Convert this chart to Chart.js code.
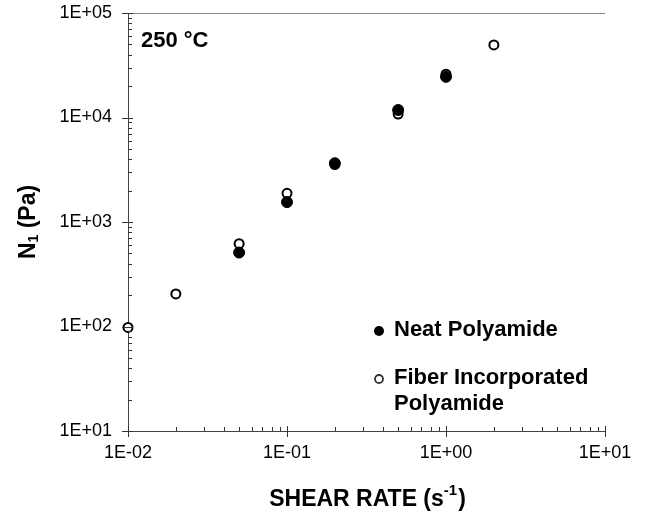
<!DOCTYPE html>
<html><head><meta charset="utf-8">
<script src="https://cdn.jsdelivr.net/npm/chart.js@4/dist/chart.umd.min.js"></script>
<style>html,body{margin:0;padding:0;background:#fff}#wrap{width:649px;height:513px}</style>
</head><body><div id="wrap"><canvas id="c" width="649" height="513"></canvas></div>
<script>
const shearRate = [0.01, 0.02, 0.05, 0.1, 0.2, 0.5, 1, 2];
const neatN1 = [null, null, 510, 1550, 3650, 11800, 24500, null];
const fiberN1 = [98, 205, 620, 1880, 3550, 10800, 26000, 49500];
const xTickValues = [0.01, 0.1, 1, 10];
const xTickLabels = ['1E-02', '1E-01', '1E+00', '1E+01'];
const yTickValues = [10, 100, 1000, 10000, 100000];
const yTickLabels = ['1E+01', '1E+02', '1E+03', '1E+04', '1E+05'];

const toPts = (arr) => shearRate.map((x, i) => ({x: x, y: arr[i]})).filter(p => p.y !== null);

const FONT = "'Liberation Sans', Arial, sans-serif";

const decor = {
  id: 'decor',
  afterDraw(chart) {
    const ctx = chart.ctx;
    const xs = chart.scales.x, ys = chart.scales.y;
    const a = chart.chartArea;
    ctx.save();
    ctx.strokeStyle = '#888'; ctx.lineWidth = 1;
    ctx.beginPath(); ctx.moveTo(a.left, a.top + 0.5); ctx.lineTo(a.right, a.top + 0.5); ctx.stroke();
    ctx.strokeStyle = '#333';
    for (let d = 1; d <= 5; d++) {
      for (let m = 1; m <= 9; m++) {
        const v = m * Math.pow(10, d);
        if (v > 1e5 + 1) break;
        const py = Math.round(ys.getPixelForValue(v)) + 0.5;
        ctx.beginPath();
        if (m === 1) { ctx.moveTo(a.left - 6, py); ctx.lineTo(a.left + 5, py); }
        else { ctx.moveTo(a.left, py); ctx.lineTo(a.left + 4, py); }
        ctx.stroke();
      }
    }
    for (let d = -2; d <= 1; d++) {
      for (let m = 1; m <= 9; m++) {
        const v = m * Math.pow(10, d);
        if (v > 10 + 1e-9) break;
        const px = Math.round(xs.getPixelForValue(v)) + 0.5;
        ctx.beginPath();
        if (m === 1) { ctx.moveTo(px, a.bottom - 5); ctx.lineTo(px, a.bottom + 6); }
        else { ctx.moveTo(px, a.bottom); ctx.lineTo(px, a.bottom - 4); }
        ctx.stroke();
      }
    }
    ctx.fillStyle = '#000';
    ctx.font = "bold 22px " + FONT;
    ctx.textBaseline = 'middle'; ctx.textAlign = 'left';
    ctx.fillText('250 \u00B0C', 141, 41);
    // legend
    ctx.beginPath(); ctx.arc(379, 331, 5, 0, Math.PI * 2); ctx.fill();
    ctx.lineWidth = 1.8;
    ctx.beginPath(); ctx.arc(379, 379, 4, 0, Math.PI * 2); ctx.stroke();
    ctx.fillText('Neat Polyamide', 394, 330);
    ctx.fillText('Fiber Incorporated', 394, 378);
    ctx.fillText('Polyamide', 394, 404);
    // x title
    ctx.font = "bold 23px " + FONT;
    const t1 = 'SHEAR RATE (s';
    const w1 = ctx.measureText(t1).width;
    ctx.font = "bold 15px " + FONT;
    const w2 = ctx.measureText('-1').width;
    ctx.font = "bold 23px " + FONT;
    const w3 = ctx.measureText(')').width;
    let x0 = 367 - (w1 + w2 + w3) / 2;
    const by = 506;
    ctx.textBaseline = 'alphabetic';
    ctx.fillText(t1, x0, by);
    ctx.font = "bold 15px " + FONT;
    ctx.fillText('-1', x0 + w1, by - 11);
    ctx.font = "bold 23px " + FONT;
    ctx.fillText(')', x0 + w1 + w2 + 1, by);
    // y title
    ctx.translate(35, 222);
    ctx.rotate(-Math.PI / 2);
    ctx.font = "bold 23px " + FONT;
    const a1 = 'N', a3 = ' (Pa)';
    const wa1 = ctx.measureText(a1).width;
    ctx.font = "bold 14px " + FONT;
    const wa2 = ctx.measureText('1').width;
    ctx.font = "bold 23px " + FONT;
    const wa3 = ctx.measureText(a3).width;
    let y0 = -(wa1 + wa2 + wa3) / 2;
    ctx.fillText(a1, y0, 0);
    ctx.font = "bold 14px " + FONT;
    ctx.fillText('1', y0 + wa1, 3);
    ctx.font = "bold 23px " + FONT;
    ctx.fillText(a3, y0 + wa1 + wa2, 0);
    ctx.restore();
  }
};

new Chart(document.getElementById('c'), {
  type: 'scatter',
  data: {
    datasets: [
      { label: 'Neat Polyamide', data: toPts(neatN1), pointStyle: 'circle', pointRadius: 5.5, clip: false,
        backgroundColor: '#000', borderColor: '#000', borderWidth: 1 },
      { label: 'Fiber Incorporated Polyamide', data: toPts(fiberN1), pointStyle: 'circle', pointRadius: 4.5, clip: false,
        backgroundColor: '#fff', borderColor: '#000', borderWidth: 2 }
    ]
  },
  options: {
    responsive: false, animation: false,
    layout: { padding: { top: 13, right: 44, left: 0, bottom: 0 } },
    plugins: { legend: { display: false }, tooltip: { enabled: false } },
    scales: {
      x: {
        type: 'logarithmic', min: 0.01, max: 10,
        grid: { display: false },
        border: { display: true, color: '#444', width: 1 },
        afterBuildTicks: (s) => { s.ticks = xTickValues.map(v => ({value: v})); },
        afterFit: (s) => { s.height = 82; s.paddingLeft = 0; s.paddingRight = 0; },
        ticks: { color: '#000', font: { family: FONT, size: 18 }, padding: 3, maxRotation: 0,
          callback: (v) => { const i = xTickValues.findIndex(t => Math.abs(t - v) / t < 1e-6); return i >= 0 ? xTickLabels[i] : ''; } }
      },
      y: {
        type: 'logarithmic', min: 10, max: 100000,
        grid: { display: false },
        border: { display: true, color: '#444', width: 1 },
        afterBuildTicks: (s) => { s.ticks = yTickValues.map(v => ({value: v})); },
        afterFit: (s) => { s.width = 128; s.paddingTop = 0; s.paddingBottom = 0; },
        ticks: { color: '#000', font: { family: FONT, size: 18 }, padding: 8,
          callback: (v) => { const i = yTickValues.findIndex(t => Math.abs(t - v) / t < 1e-6); return i >= 0 ? yTickLabels[i] : ''; } }
      }
    }
  },
  plugins: [decor]
});
</script></body></html>
